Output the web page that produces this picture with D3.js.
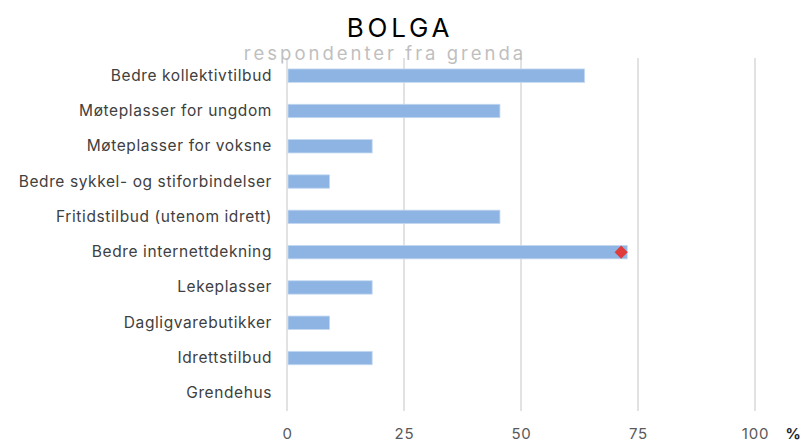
<!DOCTYPE html>
<html>
<head>
<meta charset="utf-8">
<script src="https://cdn.jsdelivr.net/npm/d3@7"></script>
<style>
  body { margin: 0; background: #fff; }
  svg text { font-family: "Inter", "Noto Sans", sans-serif; }
</style>
</head>
<body>
<div class="chart-holder"></div>
<script>
// Categories and values (share of respondents, %)
const categories = [
  "Bedre kollektivtilbud",
  "Møteplasser for ungdom",
  "Møteplasser for voksne",
  "Bedre sykkel- og stiforbindelser",
  "Fritidstilbud (utenom idrett)",
  "Bedre internettdekning",
  "Lekeplasser",
  "Dagligvarebutikker",
  "Idrettstilbud",
  "Grendehus"
];
const values = [63.6, 45.5, 18.2, 9.1, 45.5, 72.7, 18.2, 9.1, 18.2, 0];
// Single marker (red diamond) on one category
const markerCategory = ["Bedre internettdekning"];
const markerValue = [71.4];
const xTicks = [0, 25, 50, 75, 100];

const width = 802;
const height = 444;
const margin = { top: 58, right: 47, bottom: 33, left: 287 };
const innerW = width - margin.left - margin.right;
const innerH = height - margin.top - margin.bottom;

const svg = d3.select('.chart-holder').append('svg')
  .attr('width', width)
  .attr('height', height);

const g = svg.append('g')
  .attr('transform', 'translate(' + margin.left + ',' + margin.top + ')');

const xScale = d3.scaleLinear().domain([0, 100]).range([0, innerW]);
const yScale = d3.scaleBand().domain(categories).range([0, innerH]).paddingInner(0.62).paddingOuter(0.31);

// Gridlines
g.append('g')
  .selectAll('line')
  .data(xTicks)
  .join('line')
  .attr('x1', d => xScale(d))
  .attr('x2', d => xScale(d))
  .attr('y1', 0)
  .attr('y2', innerH)
  .attr('stroke', '#d9d9d9')
  .attr('stroke-width', 1.5);

// Bars
g.append('g')
  .selectAll('rect')
  .data(values)
  .join('rect')
  .attr('x', xScale(0) + 1)
  .attr('y', (d, i) => yScale(categories[i]))
  .attr('width', d => Math.max(0, xScale(d) - 1))
  .attr('height', yScale.bandwidth())
  .attr('fill', '#8eb4e3')
  .attr('stroke', '#c5d9f1')
  .attr('stroke-width', d => d > 0 ? 0.8 : 0);

// Marker
g.append('g')
  .selectAll('path')
  .data(markerValue)
  .join('path')
  .attr('d', d3.symbol().type(d3.symbolDiamond2).size(110))
  .attr('transform', (d, i) => 'translate(' + xScale(d) + ',' + (yScale(markerCategory[i]) + yScale.bandwidth() / 2) + ')')
  .attr('fill', '#e03c3c');

// Y axis labels
const yAxis = g.append('g')
  .call(d3.axisLeft(yScale).tickSize(0).tickPadding(15));
yAxis.select('.domain').remove();
yAxis.selectAll('text')
  .attr('fill', '#404040')
  .style('font-size', '15.5px')
  .style('letter-spacing', '0.6px');

// X axis labels
const xAxis = g.append('g')
  .attr('transform', 'translate(0,' + innerH + ')')
  .call(d3.axisBottom(xScale).tickValues(xTicks).tickSize(0).tickPadding(17));
xAxis.select('.domain').remove();
xAxis.selectAll('text')
  .attr('fill', '#595959')
  .style('font-size', '15px')
  .style('letter-spacing', '0.8px');

// Axis unit
svg.append('text')
  .attr('x', 793)
  .attr('y', 439)
  .attr('text-anchor', 'middle')
  .attr('fill', '#262626')
  .style('font-size', '15px')
  .style('font-weight', 'bold')
  .text('%');

// Title
svg.append('text')
  .attr('x', 400)
  .attr('y', 37)
  .attr('text-anchor', 'middle')
  .attr('fill', '#000')
  .style('font-size', '26px')
  .style('letter-spacing', '3.8px')
  .text('BOLGA');

// Subtitle
svg.append('text')
  .attr('x', 385)
  .attr('y', 60)
  .attr('text-anchor', 'middle')
  .attr('fill', '#bfbfbf')
  .style('font-size', '18.5px')
  .style('letter-spacing', '3px')
  .text('respondenter fra grenda');
</script>
</body>
</html>
